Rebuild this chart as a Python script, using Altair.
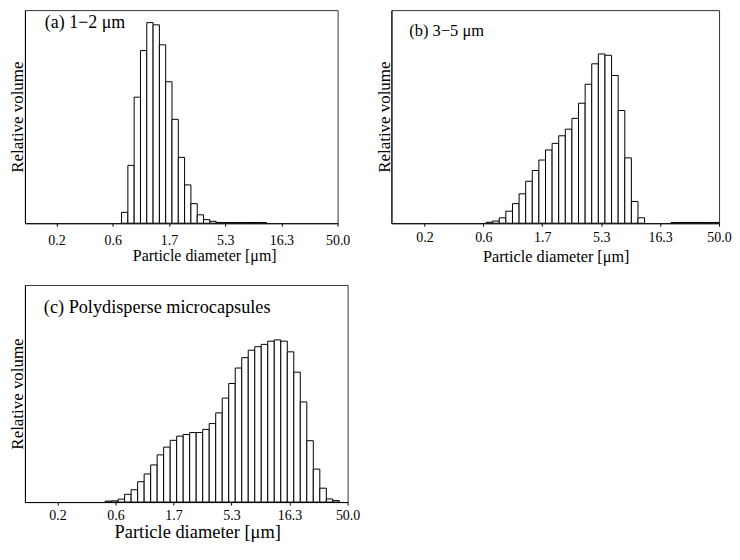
import altair as alt
import pandas as pd

FONT = "Liberation Serif"

# ---- x axis (equally log-spaced ticks, labelled as in the figure) ----
tick_labels = ["0.2", "0.6", "1.7", "5.3", "16.3", "50.0"]
D0 = 0.2          # diameter at first tick
DMAX = 50.0       # diameter at last tick (right edge of plot)
LEFT_PAD_TICKS = 0.56   # plot starts this many tick-intervals left of 0.2
BINS_PER_TICK = 8.92    # size classes per tick interval
BIN_OFFSET = 0.33       # bin edge offset (in bins) relative to ticks

# ---- size-distribution data (relative volume per size class) ----
a_first_bin = 10
a_values = [11.3, 60, 130.7, 179, 208, 205.7, 185, 146.7, 107.7, 68.3, 39.7,
            20.3, 8.7, 3.7, 2.0, 0.7, 0.7, 0.7, 0.7, 0.7, 0.7, 0.7, 0.7]

b_first_bin = 9
b_values = [1.0, 2.3, 5.7, 12.7, 20.7, 31, 44.3, 55.7, 66.7, 77.3, 84.3, 92.3,
            99.3, 110.7, 126.7, 146.7, 168.3, 178.7, 177.3, 156, 119, 69, 23,
            5.7, 0, 0, 0, 0, 0.8, 0.8, 0.8, 0.8, 0.8, 0.8, 0.8, 0.8]

c_first_bin = 7
c_values = [1.0, 1.3, 3.0, 8.0, 12.7, 21, 29, 38.3, 48.7, 56.7, 63.7, 68, 69.7,
            71.7, 71.7, 75, 81, 92, 107.3, 122.3, 138.3, 149, 156.7, 160.3,
            162.7, 166, 167.3, 166, 155, 134, 103.3, 63.3, 34, 14.3, 3.2, 1.5]

R = (DMAX / D0) ** (1 / (len(tick_labels) - 1))
DMIN = D0 * R ** (-LEFT_PAD_TICKS)
tick_vals = [min(D0 * R ** i, DMAX) for i in range(len(tick_labels))]

label_expr = ""
for i in range(len(tick_labels) - 1):
    mid = (tick_vals[i] * tick_vals[i + 1]) ** 0.5
    label_expr += f"datum.value < {mid:.6f} ? '{tick_labels[i]}' : "
label_expr += f"'{tick_labels[-1]}'"


def make_df(first_bin, values):
    rows = []
    for i, v in enumerate(values):
        if v <= 0:
            continue
        k = first_bin + i
        lo = D0 * R ** ((k + BIN_OFFSET) / BINS_PER_TICK)
        hi = D0 * R ** ((k + 1 + BIN_OFFSET) / BINS_PER_TICK)
        rows.append({"lo": lo, "hi": hi, "v": v})
    return pd.DataFrame(rows)


def panel(first_bin, values, label, width, height, ymax, tx, ty, tsize,
          xtitle_size, label_pad, xtitle_pad, xtitle_x):
    df = make_df(first_bin, values)
    bars = alt.Chart(df).mark_rect(
        fill="white", stroke="black", strokeWidth=1, clip=True
    ).encode(
        x=alt.X(
            "lo:Q",
            scale=alt.Scale(type="log", domain=[DMIN, DMAX], nice=False, zero=False),
            axis=alt.Axis(
                values=tick_vals, labelExpr=label_expr, title="Particle diameter [μm]",
                grid=False, domainColor="black", domainWidth=1, tickColor="black",
                tickSize=3, labelFont=FONT, labelFontSize=14, labelColor="black",
                labelPadding=label_pad, labelFlush=False, labelOverlap=False,
                titleFont=FONT, titleFontSize=xtitle_size, titleFontWeight="normal",
                titleColor="black", titlePadding=xtitle_pad, titleX=xtitle_x,
            ),
        ),
        x2="hi:Q",
        y=alt.Y(
            "v:Q",
            scale=alt.Scale(domain=[0, ymax], nice=False, zero=True),
            axis=alt.Axis(
                title="Relative volume", labels=False, ticks=False, grid=False,
                domainColor="black", domainWidth=1, titleFont=FONT, titleFontSize=17,
                titleFontWeight="normal", titleColor="black", titlePadding=-2,
            ),
        ),
        y2=alt.datum(0),
    )
    txt = alt.Chart(pd.DataFrame({"t": [label]})).mark_text(
        align="left", baseline="alphabetic", font=FONT, fontSize=tsize, color="black"
    ).encode(x=alt.value(tx), y=alt.value(ty), text="t:N")
    return alt.layer(bars, txt).properties(width=width, height=height)


pa = panel(a_first_bin, a_values, "(a) 1−2 μm", 314, 214, 221, 20, 18, 18, 16, 7, 0, 180)
pb = panel(b_first_bin, b_values, "(b) 3−5 μm", 329, 214, 225, 18, 26, 16.5, 16.3, 4, 4, 165)
pc = panel(c_first_bin, c_values, "(c) Polydisperse microcapsules", 324, 218, 224, 19, 28,
           18.3, 18.5, 4, 0, 173)

chart = alt.concat(
    pa, pb, pc,
    columns=2,
    spacing={"row": 62, "column": 44},
    bounds="flush",
    align="each",
).properties(
    padding={"left": 0, "top": 0, "right": 0, "bottom": 0}
).configure_view(stroke="#333", strokeWidth=1)

chart.save("out.html", embed_options={"renderer": "svg", "actions": False})
